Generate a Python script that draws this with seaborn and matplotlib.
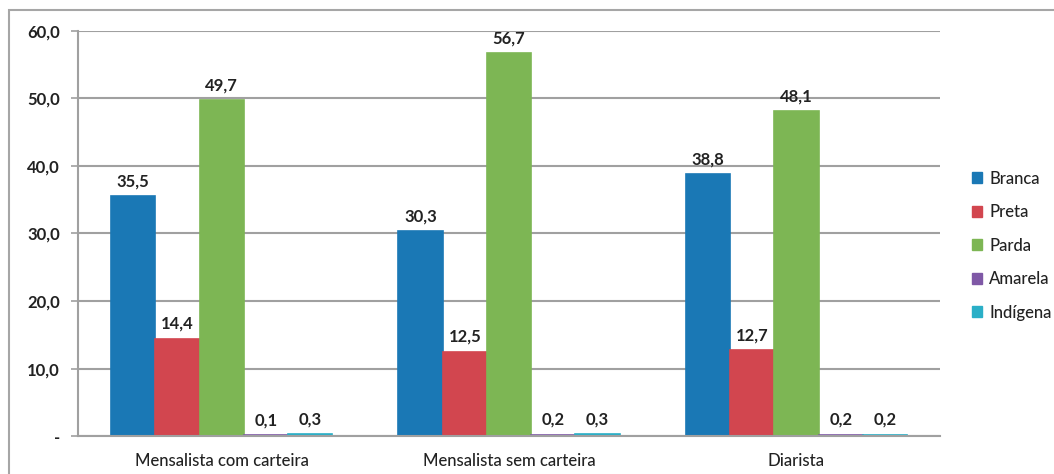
import matplotlib
matplotlib.use("Agg")
import matplotlib.pyplot as plt
import matplotlib.patches as mpatches
import seaborn as sns
import pandas as pd

categories = ["Mensalista com carteira", "Mensalista sem carteira", "Diarista"]
groups = ["Branca", "Preta", "Parda", "Amarela", "Indígena"]
branca = [35.5, 30.3, 38.8]
preta = [14.4, 12.5, 12.7]
parda = [49.7, 56.7, 48.1]
amarela = [0.1, 0.2, 0.2]
indigena = [0.3, 0.3, 0.2]
y_ticks = [0, 10, 20, 30, 40, 50, 60]
y_tick_labels = ["-", "10,0", "20,0", "30,0", "40,0", "50,0", "60,0"]

colors = ["#1a78b5", "#d2464f", "#7db654", "#7f58a6", "#2aafc7"]

series = [branca, preta, parda, amarela, indigena]
rows = []
for g, vals in zip(groups, series):
    for c, v in zip(categories, vals):
        rows.append({"categoria": c, "cor": g, "valor": v})
df = pd.DataFrame(rows)

sns.set_theme(style="white")
plt.rcParams["font.family"] = ["Lato", "DejaVu Sans"]

fig = plt.figure(figsize=(10.54, 4.74), dpi=100)
# outer chart-area frame
fig.patches.append(mpatches.Rectangle((9 / 1054, -0.1), 1.2, 1 - 10 / 474 + 0.1,
                                      transform=fig.transFigure, fill=False,
                                      edgecolor="#a6a6a6", linewidth=1.5))
ax = fig.add_axes([0.074, 0.080, 0.818, 0.855])

sns.barplot(data=df, x="categoria", y="valor", hue="cor", order=categories,
            hue_order=groups, palette=colors, width=0.77, saturation=1,
            ax=ax, legend=True)

for cont in ax.containers:
    for b in cont:
        b.set_edgecolor(b.get_facecolor())
        b.set_linewidth(1.2)
    ax.bar_label(cont, labels=[f"{b.get_height():.1f}".replace(".", ",") for b in cont],
                 padding=5, fontsize=12, fontweight="bold", color="#222222")

ax.set_ylim(0, 60)
ax.set_xlim(-0.5, 2.5)
ax.set_yticks(y_ticks)
ax.set_yticklabels(y_tick_labels, fontsize=12, fontweight="bold", color="#222222")
ax.yaxis.grid(True, color="#a0a0a0", linewidth=1.5)
ax.set_axisbelow(True)
ax.set_xlabel("")
ax.set_ylabel("")
ax.tick_params(axis="x", which="major", length=0, pad=12, labelsize=12, labelcolor="#222222")
ax.set_xticks([-0.5, 0.5, 1.5, 2.5], minor=True)
ax.tick_params(axis="x", which="minor", length=5, width=1.2, color="#a0a0a0", direction="out")
ax.tick_params(axis="y", length=5, width=1.2, color="#a0a0a0", direction="out", pad=8, left=True)
for lbl in ax.get_xticklabels():
    lbl.set_fontweight("medium")

for s in ["top", "right"]:
    ax.spines[s].set_visible(False)
for s in ["left", "bottom"]:
    ax.spines[s].set_color("#a0a0a0")
    ax.spines[s].set_linewidth(1.5)

handles = [mpatches.Patch(color=c, label=g) for c, g in zip(colors, groups)]
leg = ax.legend(handles=handles, loc="center left", bbox_to_anchor=(1.02, 0.47),
                frameon=False, fontsize=12, handlelength=0.6, handleheight=0.6,
                handletextpad=0.4, labelspacing=1.05)
for t in leg.get_texts():
    t.set_fontweight("medium")
    t.set_color("#222222")

fig.savefig("out.png", dpi=100)
